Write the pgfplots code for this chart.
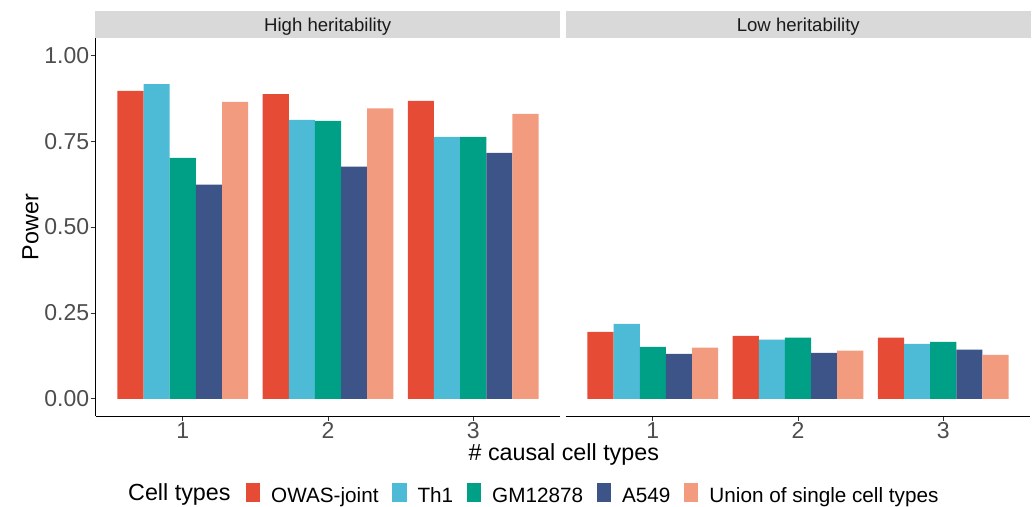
\documentclass[border=0pt]{standalone}
\usepackage{pgfplots}
\pgfplotsset{compat=1.18}
\usepackage{fontspec}
\setmainfont{Liberation Sans}
\definecolor{cOW}{HTML}{E64B35}
\definecolor{cTh}{HTML}{4DBBD5}
\definecolor{cGM}{HTML}{00A087}
\definecolor{cA}{HTML}{3C5488}
\definecolor{cUn}{HTML}{F39B7F}
\definecolor{stripgrey}{HTML}{D9D9D9}
\definecolor{tickgrey}{HTML}{4D4D4D}
\definecolor{tickmark}{HTML}{333333}
\definecolor{striptext}{HTML}{1A1A1A}

\pgfplotsset{
 panel/.style={
  scale only axis, width=464.6pt, height=378pt,
  xmin=0.4, xmax=3.6, ymin=-0.05, ymax=1.05,
  ybar, bar width=0.18,
  xtick={1,2,3},
  axis x line*=bottom,
  xtick pos=left,
  tick align=outside,
  major tick length=5pt,
  every tick/.style={tickmark, line width=0.8pt},
  axis line style={black, line width=0.9pt},
  ticklabel style={font=\fontsize{23}{23}\selectfont, text=tickgrey},
  /pgf/number format/assume math mode=true,
  xticklabel style={inner sep=0pt, yshift=-1pt},
  yticklabel style={inner sep=0pt, xshift=-1.4pt},
  clip=false,
  legend image code/.code={\fill[#1] (0pt,-5.6pt) rectangle (14.5pt,13.6pt);},
 },
}

\begin{document}
\begin{tikzpicture}
\path (0pt,0pt) rectangle (1035pt,-506pt);

% strips
\fill[stripgrey] (95pt,-11pt) rectangle (560.3pt,-37.7pt);
\fill[stripgrey] (565.7pt,-11pt) rectangle (1031pt,-37.7pt);
\node[anchor=base, inner sep=0pt, text=striptext, font=\fontsize{18.6}{18.6}\selectfont] at (327.7pt,-31pt) {High heritability};
\node[anchor=base, inner sep=0pt, text=striptext, font=\fontsize{18.6}{18.6}\selectfont] at (798.3pt,-31pt) {Low heritability};

\begin{axis}[panel, at={(95.7pt,-416pt)}, anchor=south west,
  axis y line*=left, ytick pos=left,
  ytick={0,0.25,0.5,0.75,1}, yticklabels={0.00,0.25,0.50,0.75,1.00},
  legend columns=5,
  legend style={draw=none, fill=none, at={(0.3229,-0.2052)}, anchor=west,
    inner sep=0pt, outer sep=0pt, font=\fontsize{20.7}{20.7}\selectfont, text=black,
    nodes={inner sep=0pt},
    /tikz/every odd column/.append style={column sep=11pt},
    /tikz/every even column/.append style={column sep=13.5pt}},
]
\addplot[fill=cOW, draw=none, bar shift=-0.36] coordinates {(1,0.896) (2,0.887) (3,0.867)};
\addlegendentry{OWAS-joint}
\addplot[fill=cTh, draw=none, bar shift=-0.18] coordinates {(1,0.916) (2,0.812) (3,0.762)};
\addlegendentry{Th1}
\addplot[fill=cGM, draw=none, bar shift=0] coordinates {(1,0.701) (2,0.809) (3,0.762)};
\addlegendentry{GM12878}
\addplot[fill=cA, draw=none, bar shift=0.18] coordinates {(1,0.623) (2,0.676) (3,0.716)};
\addlegendentry{A549}
\addplot[fill=cUn, draw=none, bar shift=0.36] coordinates {(1,0.864) (2,0.845) (3,0.829)};
\addlegendentry{Union of single cell types}
\end{axis}

\begin{axis}[panel, at={(565.7pt,-416pt)}, anchor=south west,
  axis y line=none, ytick=\empty,
]
\addplot[fill=cOW, draw=none, bar shift=-0.36] coordinates {(1,0.195) (2,0.183) (3,0.178)};
\addplot[fill=cTh, draw=none, bar shift=-0.18] coordinates {(1,0.218) (2,0.172) (3,0.160)};
\addplot[fill=cGM, draw=none, bar shift=0] coordinates {(1,0.151) (2,0.178) (3,0.166)};
\addplot[fill=cA, draw=none, bar shift=0.18] coordinates {(1,0.131) (2,0.134) (3,0.143)};
\addplot[fill=cUn, draw=none, bar shift=0.36] coordinates {(1,0.149) (2,0.140) (3,0.128)};
\end{axis}

% axis titles
\node[anchor=base, inner sep=0pt, rotate=90, font=\fontsize{23.3}{23.3}\selectfont] at (38.3pt,-227pt) {Power};
\node[anchor=base, inner sep=0pt, font=\fontsize{23.3}{23.3}\selectfont] at (563.8pt,-460pt) {\# causal cell types};
\node[anchor=base west, inner sep=0pt, font=\fontsize{23.3}{23.3}\selectfont] at (128pt,-500pt) {Cell types};
\end{tikzpicture}
\end{document}
